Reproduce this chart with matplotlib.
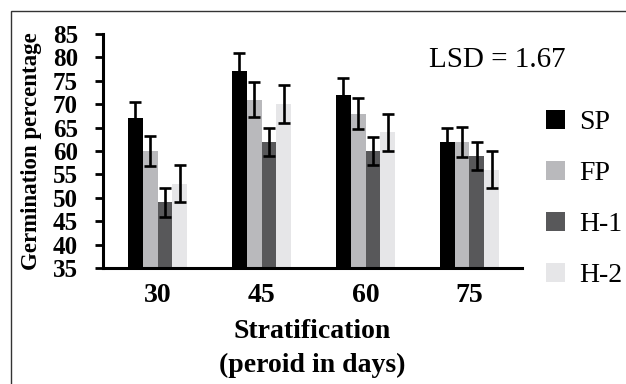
import matplotlib
matplotlib.use("Agg")
import matplotlib.pyplot as plt
import matplotlib.patches as mpatches
import numpy as np

plt.rcParams['font.family'] = 'Liberation Serif'

days = ['30', '45', '60', '75']
series = ['SP', 'FP', 'H-1', 'H-2']
colors = ['#000000', '#b9b9bc', '#58585a', '#e6e6e8']
sp = [67, 77, 72, 62]
fp = [60, 71, 68, 62]
h1 = [49, 62, 60, 59]
h2 = [53, 70, 64, 56]
sp_err = [3.5, 4, 3.5, 3]
fp_err = [3.2, 3.7, 3.3, 3.2]
h1_err = [3, 3, 3, 3]
h2_err = [4, 4, 4, 4]

values = [sp, fp, h1, h2]
errors = [sp_err, fp_err, h1_err, h2_err]

fig = plt.figure(figsize=(6.26, 3.84), dpi=100)
ax = fig.add_axes([103/626, 1 - 268/384, (522 - 103)/626, (268 - 34)/384])

x = np.arange(len(days))
w = 0.142
for i in range(4):
    pos = x + (i - 1.5) * w
    ax.bar(pos, np.array(values[i]) - 35, w, bottom=35, color=colors[i], label=series[i])
    ax.errorbar(pos, values[i], yerr=errors[i], fmt='none', ecolor='black',
                elinewidth=1.9, capsize=4.5, capthick=1.9)

ax.set_ylim(35, 85)
ax.set_xlim(-0.525, 3.505)
ax.set_yticks(range(35, 86, 5))
ax.set_xticks(x)
ax.set_xticklabels(days)
for s in ['top', 'right']:
    ax.spines[s].set_visible(False)
ax.spines['left'].set_linewidth(2.2)
ax.spines['bottom'].set_linewidth(2.2)
ax.tick_params(axis='y', length=6, width=2, pad=12, labelsize=18)
ax.tick_params(axis='x', length=0, pad=11, labelsize=20)
for lbl in ax.get_xticklabels() + ax.get_yticklabels():
    lbl.set_fontweight('bold')

ax.set_xlabel('Stratification\n(peroid in days)', fontsize=20, fontweight='bold',
              labelpad=8, linespacing=1.45)
fig.text(32/626, 1 - 151/384, 'Germination percentage', rotation=90,
         fontsize=16.5, fontweight='bold', ha='center', va='center')

fig.text(497/626, 1 - 60/384, 'LSD = 1.67', fontsize=21, ha='center', va='center')

ax.legend(loc='upper left', bbox_to_anchor=(546/626, 1 - 110/384),
          bbox_transform=fig.transFigure, frameon=False, fontsize=20,
          handlelength=0.7, handleheight=0.7, handletextpad=0.5,
          labelspacing=0.92, borderpad=0, borderaxespad=0)

fig.patches.append(mpatches.Rectangle((11/626, -0.2), 2, 1.2 - 11/384,
                                      transform=fig.transFigure, fill=False,
                                      edgecolor='#333333', linewidth=1))

fig.savefig('out.png', dpi=100)
